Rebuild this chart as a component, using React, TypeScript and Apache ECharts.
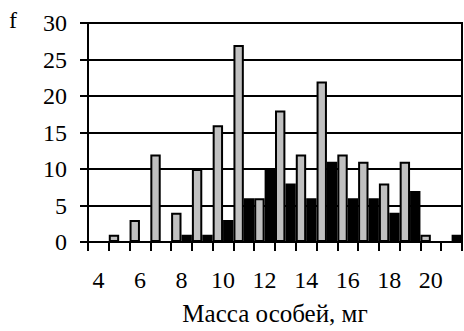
import React, { useEffect, useRef } from "react";
import * as echarts from "echarts";

const categories = ["4","5","6","7","8","9","10","11","12","13","14","15","16","17","18","19","20","21"];
const grayValues = [0,1,3,12,4,10,16,27,6,18,12,22,12,11,8,11,1,0];
const blackValues = [0,0,0,0,1,1,3,6,10,8,6,11,6,6,4,7,0,1];
const yTicks = { min: 0, max: 30, interval: 5 };

const FONT = "Liberation Serif";

export default function App() {
  const ref = useRef<HTMLDivElement>(null);
  useEffect(() => {
    if (!ref.current) return;
    const chart = echarts.init(ref.current, null, { renderer: "svg" });
    chart.setOption({
      animation: false,
      backgroundColor: "#ffffff",
      textStyle: { fontFamily: FONT },
      grid: { left: 88, right: 2, top: 23, bottom: 85, show: true, borderColor: "#000", borderWidth: 2 },
      xAxis: {
        type: "category",
        data: categories,
        name: "Масса особей, мг",
        nameLocation: "middle",
        nameGap: 59,
        nameTextStyle: { fontFamily: FONT, fontSize: 25, color: "#000" },
        axisLine: { show: true, lineStyle: { color: "#000", width: 2 } },
        axisTick: { show: true, interval: 0, inside: false, length: 9, lineStyle: { color: "#000", width: 2 } },
        axisLabel: { interval: 1, margin: 26, fontFamily: FONT, fontSize: 24, color: "#000" },
        splitLine: { show: false },
      },
      yAxis: {
        type: "value",
        min: yTicks.min,
        max: yTicks.max,
        interval: yTicks.interval,
        axisLine: { show: true, lineStyle: { color: "#000", width: 2 } },
        axisTick: { show: true, length: 8, lineStyle: { color: "#000", width: 2 } },
        axisLabel: { margin: 21, fontFamily: FONT, fontSize: 24, color: "#000" },
        splitLine: { show: true, lineStyle: { color: "#000", width: 2 } },
      },
      graphic: [
        { type: "text", left: 9, top: 8, style: { text: "f", font: `24px ${FONT}`, fill: "#000" } },
      ],
      series: [
        {
          type: "bar",
          data: grayValues,
          barGap: "0%",
          barCategoryGap: "0%",
          itemStyle: { color: "#c0c0c0", borderColor: "#000", borderWidth: 2 },
        },
        {
          type: "bar",
          data: blackValues,
          barGap: "0%",
          barCategoryGap: "0%",
          itemStyle: { color: "#000", borderColor: "#000", borderWidth: 2 },
        },
      ],
    });
    return () => chart.dispose();
  }, []);
  return <div ref={ref} style={{ position: "fixed", left: 0, top: 0, width: 464, height: 331 }} />;
}
